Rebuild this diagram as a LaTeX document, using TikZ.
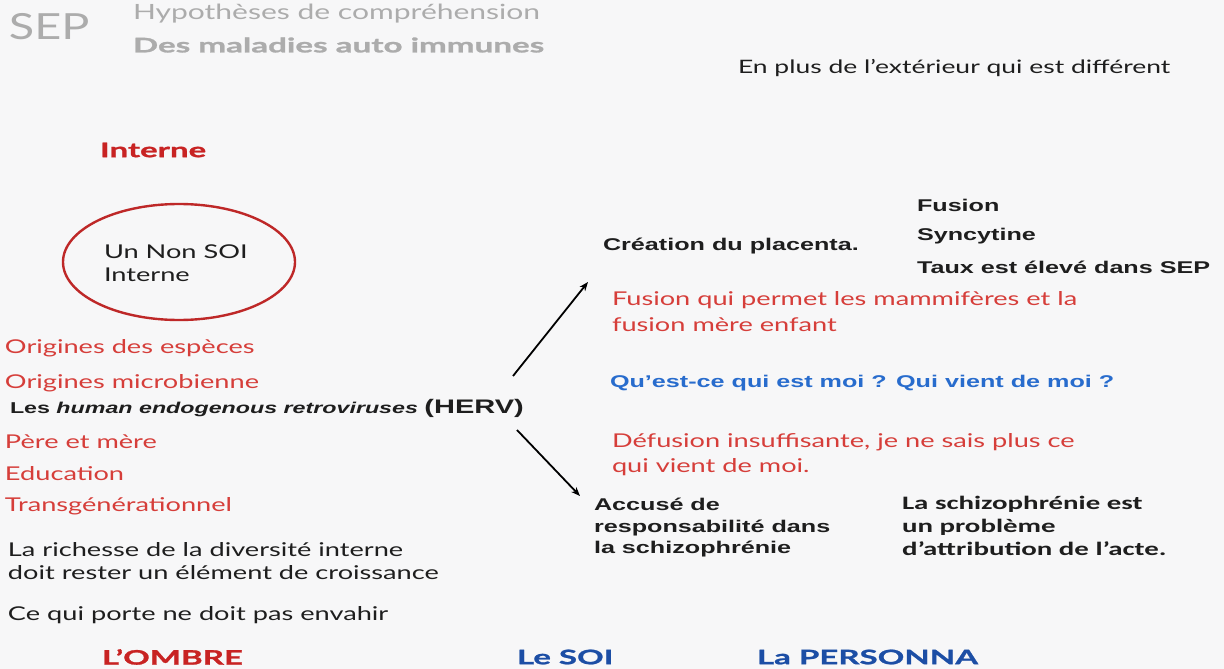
\documentclass[tikz,border=0pt]{standalone}
\usepackage{fontspec}
\usetikzlibrary{arrows.meta}
\setmainfont[FakeStretch=1.43]{Lato}
\newfontfamily\sepf[FakeStretch=1.3]{Lato}
\newfontfamily\heavyf[FakeStretch=1.65,FakeBold=1.2]{Lato}
\newfontfamily\arialf[FakeStretch=1.48]{Liberation Sans}
\newfontfamily\calibf[FakeStretch=1.52]{Carlito}
\definecolor{bgc}{RGB}{247,247,248}
\definecolor{titlegray}{RGB}{172,172,172}
\definecolor{redA}{RGB}{200,35,35}
\definecolor{redB}{RGB}{214,62,58}
\definecolor{ellred}{RGB}{190,40,40}
\definecolor{blueA}{RGB}{28,78,165}
\definecolor{blueB}{RGB}{40,108,205}
\definecolor{txt}{RGB}{30,30,30}
\tikzset{
  lbl/.style={anchor=west,inner sep=0pt,outer sep=0pt,text=txt},
  gill/.style={lbl,font=\fontsize{19}{22}\selectfont},
  redtxt/.style={gill,text=redB},
  arialb/.style={lbl,font=\arialf\bfseries\fontsize{17}{21}\selectfont},
  calib/.style={lbl,font=\calibf\bfseries\fontsize{19}{23}\selectfont,align=left},
  heavy/.style={lbl,font=\heavyf\bfseries\fontsize{20}{24}\selectfont},
  arr/.style={line width=1.8pt,-{Stealth[length=9pt,width=7pt]}}
}
\begin{document}
\begin{tikzpicture}[x=1pt,y=-1pt]
\fill[bgc] (0,0) rectangle (1224,669);
\useasboundingbox (0,0) rectangle (1224,669);
% title
\node[lbl,text=titlegray,font=\sepf\fontsize{36}{40}\selectfont] (sep) at (9,27) {SEP};
\node[lbl,text=titlegray,font=\fontsize{21}{24}\selectfont] (hyp) at (133,14) {Hypothèses de compréhension};
\node[lbl,text=titlegray,font=\heavyf\bfseries\fontsize{20.1}{24}\selectfont] (des) at (133,45) {Des maladies auto immunes};
\node[gill,font=\fontsize{18.5}{22}\selectfont] (ext) at (738,68) {En plus de l’extérieur qui est différent};
% left column
\node[heavy,text=redA] (interne) at (100,150) {Interne};
\draw[ellred,line width=2.4pt] (179,262) ellipse [x radius=116, y radius=58];
\node[gill] (nonsoi) at (104,252) {Un Non SOI};
\node[gill] (interne2) at (104,275) {Interne};
\node[redtxt] (o1) at (5,348) {Origines des espèces};
\node[redtxt] (o2) at (5,383) {Origines microbienne};
\node[lbl,font=\arialf\bfseries\fontsize{15.7}{20}\selectfont] (herv) at (10,408) {Les \textit{human endogenous retroviruses} {\fontsize{19.6}{24}\selectfont(HERV)}};
\node[redtxt] (pm) at (5,442) {Père et mère};
\node[redtxt] (edu) at (5,474) {Education};
\node[redtxt] (trans) at (5,506) {Transgénérationnel};
\node[gill,align=left,font=\fontsize{19}{23}\selectfont] (rich) at (8,561) {La richesse de la diversité interne\\doit rester un élément de croissance};
\node[gill] (porte) at (8,615) {Ce qui porte ne doit pas envahir};
% bottom row
\node[heavy,text=redA] (ombre) at (102,657) {L’OMBRE};
\node[heavy,text=blueA] (lesoi) at (517,657) {Le SOI};
\node[heavy,text=blueA] (perso) at (757,657) {La PERSONNA};
% right part
\node[arialb] (placenta) at (603,246) {Création du placenta.};
\node[arialb] (fusion) at (917,205) {Fusion};
\node[arialb] (sync) at (917,236) {Syncytine};
\node[arialb] (taux) at (917,267) {Taux est élevé dans SEP};
\node[redtxt,align=left,font=\fontsize{19}{26}\selectfont] (fmam) at (612,312) {Fusion qui permet les mammifères et la\\fusion mère enfant};
\node[arialb,text=blueB] (qui) at (610,383) {Qu’est-ce qui est moi ? Qui vient de moi ?};
\node[redtxt,align=left,font=\fontsize{19}{25}\selectfont] (defus) at (612,455) {Défusion insuffisante, je ne sais plus ce\\qui vient de moi.};
\node[arialb,align=left,font=\arialf\bfseries\fontsize{17}{21.5}\selectfont] (accuse) at (594,528) {Accusé de\\responsabilité dans\\la schizophrénie};
\node[calib] (schizo) at (902,526) {La schizophrénie est\\un problème\\d’attribution de l’acte.};
% arrows
\coordinate (upS) at (513,376);
\coordinate (upE) at (588,282);
\coordinate (dnS) at (517,430);
\coordinate (dnE) at (580,496);
\draw[arr] (upS) -- (upE);
\draw[arr] (dnS) -- (dnE);
\end{tikzpicture}
\end{document}
